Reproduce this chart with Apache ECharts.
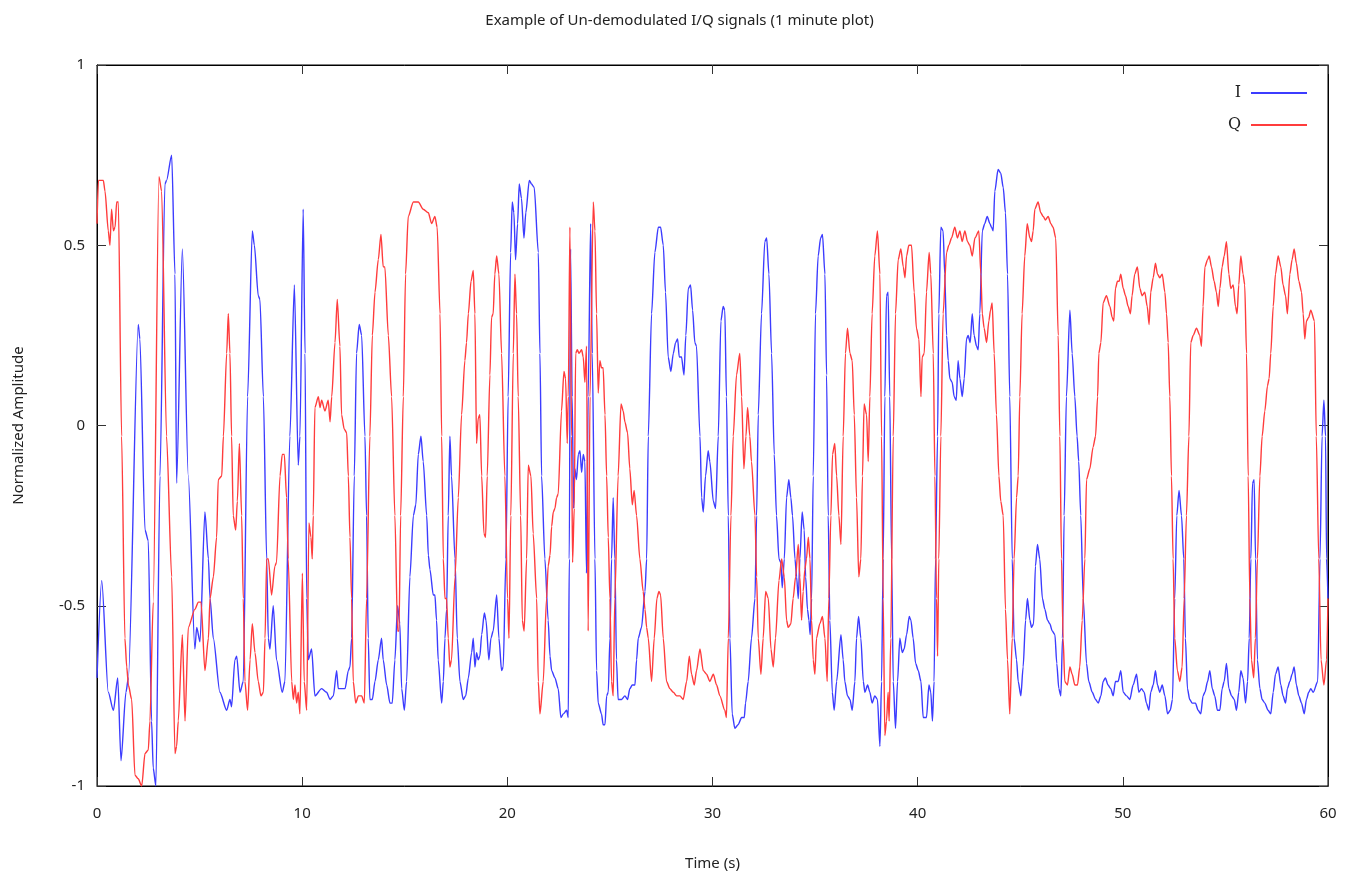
<!DOCTYPE html>
<html>
<head>
<meta charset="utf-8">
<script src="https://cdn.jsdelivr.net/npm/echarts@6/dist/echarts.min.js"></script>
<style>
html,body{margin:0;padding:0;background:#fff;}
#chart{width:1359px;height:879px;}
</style>
</head>
<body>
<div id="chart"></div>
<script>
const TITLE = 'Example of Un-demodulated I/Q signals (1 minute plot)';
const X_NAME = 'Time (s)';
const Y_NAME = 'Normalized Amplitude';
const SERIES_NAMES = ['I', 'Q'];
const X_TICKS = [0, 10, 20, 30, 40, 50, 60];
const Y_TICKS = [-1, -0.5, 0, 0.5, 1];

// I signal: [time (s), amplitude]
const I_POINTS = [
[0,-0.70],[0.23,-0.43],[0.55,-0.74],[0.80,-0.79],[1.01,-0.70],[1.17,-0.93],[1.41,-0.74],[1.53,-0.70],[2.01,0.28],[2.09,0.24],[2.34,-0.29],[2.50,-0.32],[2.66,-0.82],[2.74,-0.95],[2.87,-1.0],[3.07,-0.14],[3.31,0.67],[3.39,0.68],[3.64,0.75],[3.80,0.42],[3.88,-0.16],[4.16,0.49],[4.45,-0.14],[4.77,-0.62],[4.86,-0.56],[5.02,-0.60],
[5.26,-0.24],[5.43,-0.37],[5.51,-0.48],[5.67,-0.59],[5.99,-0.74],[6.32,-0.79],[6.48,-0.76],[6.56,-0.78],[6.72,-0.65],[6.81,-0.64],[6.97,-0.74],[7.13,-0.71],[7.34,0.08],[7.57,0.54],[7.67,0.50],[7.86,0.36],[7.94,0.35],[8.11,0.08],[8.27,-0.37],[8.35,-0.59],[8.43,-0.62],[8.59,-0.50],[8.75,-0.65],[9.03,-0.74],[9.16,-0.71],[9.40,-0.03],[9.62,0.39],[9.81,-0.11],[9.89,-0.03],[10.05,0.60],[10.14,0.20],[10.22,-0.48],[10.30,-0.65],[10.46,-0.62],
[10.62,-0.75],[10.95,-0.73],[11.19,-0.74],[11.36,-0.76],[11.52,-0.75],[11.68,-0.68],[11.76,-0.73],[11.92,-0.73],[12.09,-0.73],[12.25,-0.68],[12.33,-0.67],[12.41,-0.59],[12.54,-0.14],[12.65,0.20],[12.78,0.28],[12.90,0.25],[13.06,-0.03],[13.14,-0.25],[13.22,-0.59],[13.30,-0.76],[13.42,-0.76],[13.55,-0.71],[13.71,-0.65],[13.87,-0.59],[13.95,-0.65],[14.12,-0.72],[14.28,-0.77],[14.39,-0.77],[14.52,-0.65],[14.65,-0.50],[14.76,-0.55],[14.85,-0.73],[14.98,-0.79],[15.09,-0.71],[15.25,-0.42],[15.42,-0.25],[15.54,-0.22],[15.66,-0.08],[15.79,-0.03],[15.90,-0.10],
[16.07,-0.25],[16.15,-0.36],[16.23,-0.40],[16.39,-0.47],[16.47,-0.47],[16.55,-0.54],[16.63,-0.65],[16.80,-0.77],[16.88,-0.71],[16.96,-0.59],[17.04,-0.51],[17.12,-0.25],[17.20,-0.03],[17.28,-0.14],[17.45,-0.37],[17.56,-0.59],[17.69,-0.71],[17.85,-0.76],[17.97,-0.75],[18.10,-0.70],[18.26,-0.63],[18.34,-0.59],[18.42,-0.67],[18.50,-0.63],[18.58,-0.65],[18.66,-0.64],[18.75,-0.58],[18.88,-0.52],[18.96,-0.54],[19.10,-0.65],[19.20,-0.59],[19.31,-0.57],[19.48,-0.47],[19.59,-0.59],[19.72,-0.68],[19.80,-0.67],[19.93,-0.37],[20.04,0.08],[20.16,0.48],[20.24,0.62],[20.32,0.59],[20.40,0.46],[20.50,0.56],[20.58,0.67],[20.69,0.63],[20.81,0.52],[20.90,0.59],[21.07,0.68],[21.18,0.67],[21.31,0.66],
[21.51,0.48],[21.59,0.20],[21.67,-0.14],[21.83,-0.37],[21.99,-0.54],[22.08,-0.64],[22.16,-0.68],[22.32,-0.70],[22.48,-0.73],[22.61,-0.81],[22.73,-0.80],[22.89,-0.79],[22.97,-0.81],[23.02,-0.37],[23.08,0.49],[23.16,0.08],[23.23,-0.23],[23.29,-0.12],[23.37,-0.15],[23.46,-0.08],[23.54,-0.07],[23.62,-0.13],[23.70,-0.08],[23.78,-0.10],[23.86,-0.41],[23.94,0.08],[24.06,0.56],[24.14,0.20],[24.27,-0.37],[24.35,-0.68],[24.43,-0.77],[24.59,-0.80],[24.67,-0.83],[24.76,-0.83],[24.84,-0.75],[24.92,-0.74],[25.00,-0.59],[25.08,-0.37],[25.16,-0.20],[25.24,-0.37],[25.32,-0.65],[25.40,-0.76],[25.57,-0.76],[25.73,-0.75],[25.86,-0.76],[25.97,-0.73],[26.09,-0.72],[26.22,-0.72],[26.30,-0.65],[26.38,-0.59],[26.54,-0.56],
[26.71,-0.46],[26.79,-0.37],[26.87,-0.03],[27.03,0.31],[27.19,0.48],[27.36,0.55],[27.47,0.55],[27.60,0.50],[27.71,0.37],[27.84,0.19],[27.97,0.15],[28.09,0.20],[28.20,0.23],[28.30,0.24],[28.38,0.19],[28.49,0.19],[28.61,0.14],[28.70,0.25],[28.82,0.38],[28.93,0.39],[29.03,0.32],[29.14,0.23],[29.22,0.22],[29.39,-0.03],[29.47,-0.20],[29.55,-0.24],[29.66,-0.14],[29.79,-0.07],[29.87,-0.10],[30.04,-0.21],[30.15,-0.23],[30.28,-0.03],[30.41,0.29],[30.52,0.33],[30.60,0.32],[30.68,0.08],[30.77,-0.25],[30.85,-0.59],[30.96,-0.80],[31.09,-0.84],[31.25,-0.83],[31.42,-0.81],[31.55,-0.81],[31.61,-0.77],[31.74,-0.71],[31.90,-0.59],[32.07,-0.48],
[32.15,-0.25],[32.23,0.03],[32.39,0.31],[32.55,0.51],[32.64,0.52],[32.75,0.42],[32.88,0.20],[33.01,-0.08],[33.12,-0.25],[33.24,-0.37],[33.33,-0.38],[33.40,-0.45],[33.50,-0.37],[33.61,-0.20],[33.72,-0.15],[33.82,-0.20],[33.90,-0.25],[34.02,-0.37],[34.10,-0.42],[34.18,-0.48],[34.26,-0.37],[34.37,-0.24],[34.47,-0.29],[34.54,-0.42],[34.63,-0.51],[34.70,-0.54],[34.76,-0.58],[34.83,-0.48],[34.91,-0.14],[35.02,0.31],[35.15,0.47],[35.27,0.52],[35.36,0.53],[35.48,0.42],[35.56,0.14],[35.64,-0.25],[35.72,-0.54],[35.84,-0.74],[35.93,-0.79],[36.05,-0.71],[36.26,-0.58],[36.37,-0.65],[36.45,-0.71],[36.58,-0.75],[36.70,-0.76],[36.81,-0.79],[36.94,-0.71],[37.02,-0.59],[37.12,-0.53],[37.23,-0.59],[37.35,-0.71],
[37.43,-0.74],[37.56,-0.72],[37.67,-0.74],[37.78,-0.77],[37.91,-0.75],[38.04,-0.76],[38.16,-0.89],[38.24,-0.71],[38.32,-0.37],[38.40,0.08],[38.48,0.36],[38.56,0.37],[38.64,0.08],[38.73,-0.37],[38.81,-0.71],[38.92,-0.84],[39.02,-0.71],[39.13,-0.59],[39.25,-0.63],[39.34,-0.62],[39.46,-0.58],[39.59,-0.53],[39.67,-0.54],[39.78,-0.59],[39.90,-0.66],[40.03,-0.68],[40.16,-0.71],[40.27,-0.81],[40.43,-0.81],[40.55,-0.72],[40.64,-0.74],[40.72,-0.82],[40.80,-0.71],[40.87,-0.37],[40.97,-0.03],[41.03,0.31],[41.13,0.55],[41.24,0.54],[41.32,0.42],[41.41,0.25],[41.49,0.18],[41.57,0.13],[41.68,0.12],[41.78,0.08],[41.88,0.07],[41.97,0.18],[42.06,0.13],[42.17,0.08],[42.27,0.13],[42.38,0.24],[42.46,0.25],[42.56,0.23],[42.66,0.31],[42.75,0.25],
[42.87,0.22],[42.95,0.21],[43.03,0.31],[43.15,0.54],[43.27,0.56],[43.39,0.58],[43.52,0.56],[43.60,0.55],[43.68,0.54],[43.76,0.65],[43.92,0.71],[44.05,0.70],[44.17,0.66],[44.28,0.59],[44.38,0.42],[44.49,0.08],[44.61,-0.37],[44.70,-0.59],[44.82,-0.65],[44.90,-0.71],[45.03,-0.75],[45.14,-0.67],[45.26,-0.54],[45.35,-0.48],[45.47,-0.54],[45.55,-0.56],[45.65,-0.55],[45.74,-0.39],[45.84,-0.33],[45.95,-0.37],[46.08,-0.48],[46.20,-0.51],[46.33,-0.54],[46.44,-0.55],[46.56,-0.57],[46.69,-0.58],[46.78,-0.66],[46.88,-0.73],[46.98,-0.75],[47.06,-0.59],[47.14,-0.25],[47.25,0.08],[47.42,0.32],[47.53,0.20],[47.66,0.08],[47.77,-0.03],[47.85,-0.10],[47.95,-0.25],[48.07,-0.48],
[48.23,-0.66],[48.34,-0.71],[48.51,-0.74],[48.67,-0.76],[48.80,-0.77],[48.93,-0.75],[49.04,-0.71],[49.15,-0.70],[49.28,-0.72],[49.41,-0.73],[49.53,-0.75],[49.64,-0.71],[49.77,-0.71],[49.90,-0.68],[50.02,-0.74],[50.18,-0.75],[50.34,-0.76],[50.50,-0.72],[50.67,-0.69],[50.78,-0.74],[50.91,-0.73],[51.04,-0.74],[51.15,-0.77],[51.27,-0.79],[51.36,-0.74],[51.48,-0.72],[51.59,-0.68],[51.69,-0.72],[51.80,-0.74],[51.92,-0.72],[52.05,-0.75],[52.18,-0.80],[52.31,-0.79],[52.42,-0.76],[52.53,-0.48],[52.63,-0.25],[52.74,-0.18],[52.86,-0.25],[52.97,-0.37],[53.05,-0.59],[53.15,-0.73],[53.26,-0.76],[53.38,-0.77],[53.54,-0.77],[53.67,-0.79],[53.80,-0.80],[53.91,-0.75],
[54.00,-0.74],[54.13,-0.71],[54.24,-0.68],[54.36,-0.73],[54.48,-0.75],[54.61,-0.79],[54.73,-0.79],[54.84,-0.73],[54.94,-0.71],[55.05,-0.66],[55.17,-0.73],[55.30,-0.75],[55.43,-0.76],[55.54,-0.79],[55.65,-0.74],[55.75,-0.68],[55.86,-0.70],[55.98,-0.77],[56.08,-0.71],[56.16,-0.59],[56.24,-0.37],[56.32,-0.16],[56.40,-0.15],[56.47,-0.37],[56.56,-0.65],[56.68,-0.73],[56.79,-0.76],[56.92,-0.77],[57.08,-0.79],[57.21,-0.80],[57.33,-0.74],[57.44,-0.69],[57.57,-0.67],[57.70,-0.72],[57.81,-0.75],[57.93,-0.77],[58.02,-0.73],[58.14,-0.71],[58.25,-0.69],[58.35,-0.67],[58.46,-0.72],[58.58,-0.75],[58.71,-0.77],[58.84,-0.80],[58.95,-0.76],[59.06,-0.74],[59.16,-0.73],[59.28,-0.74],[59.50,-0.71],[59.61,-0.37],[59.71,-0.03],[59.80,0.07],[59.88,-0.03],[59.93,-0.37],[60.0,-0.48]
];

// Q signal: [time (s), amplitude]
const Q_POINTS = [
[0,0.56],[0.07,0.68],[0.31,0.68],[0.39,0.65],[0.55,0.54],[0.63,0.50],[0.71,0.60],[0.80,0.54],[0.88,0.55],[0.96,0.62],[1.04,0.62],[1.20,-0.03],[1.36,-0.59],[1.45,-0.67],[1.53,-0.72],[1.69,-0.76],[1.85,-0.97],[2.01,-0.98],[2.18,-1.0],[2.34,-0.91],[2.50,-0.90],[2.58,-0.82],[2.74,-0.49],[3.02,0.69],[3.15,0.65],[3.39,-0.03],[3.64,-0.42],[3.80,-0.91],[3.88,-0.89],[3.96,-0.82],[4.16,-0.58],[4.29,-0.82],[4.45,-0.56],[4.77,-0.51],[4.94,-0.49],[5.07,-0.49],
[5.26,-0.68],[5.43,-0.59],[5.51,-0.48],[5.67,-0.42],[5.83,-0.31],[5.91,-0.15],[6.08,-0.14],[6.16,-0.03],[6.32,0.20],[6.40,0.31],[6.48,0.20],[6.56,-0.03],[6.64,-0.25],[6.76,-0.29],[6.84,-0.21],[6.94,-0.05],[7.05,-0.25],[7.13,-0.48],[7.21,-0.71],[7.34,-0.79],[7.46,-0.65],[7.57,-0.55],[7.70,-0.63],[7.86,-0.71],[7.99,-0.75],[8.11,-0.74],[8.19,-0.59],[8.27,-0.37],[8.35,-0.37],[8.51,-0.47],[8.67,-0.39],[8.75,-0.38],[8.92,-0.14],[9.03,-0.08],[9.13,-0.08],[9.24,-0.20],[9.32,-0.37],[9.49,-0.71],[9.57,-0.76],[9.65,-0.72],[9.73,-0.77],[9.81,-0.74],[9.89,-0.80],[10.01,-0.41],[10.10,-0.71],[10.22,-0.79],[10.33,-0.27],[10.43,-0.31],[10.49,-0.37],[10.54,-0.25],[10.62,0.05],
[10.79,0.08],[10.87,0.05],[10.95,0.07],[11.11,0.04],[11.27,0.07],[11.36,0.01],[11.44,0.08],[11.60,0.23],[11.71,0.35],[11.84,0.22],[11.92,0.03],[12.05,-0.01],[12.17,-0.02],[12.25,-0.14],[12.33,-0.31],[12.41,-0.48],[12.49,-0.71],[12.61,-0.77],[12.74,-0.75],[12.90,-0.75],[13.03,-0.77],[13.14,-0.48],[13.30,-0.03],[13.42,0.25],[13.55,0.37],[13.71,0.46],[13.84,0.53],[13.95,0.44],[14.03,0.44],[14.20,0.25],[14.36,0.08],[14.52,-0.25],[14.65,-0.57],[14.72,-0.57],[14.80,-0.25],[14.93,0.08],[15.04,0.42],[15.17,0.58],[15.42,0.62],[15.66,0.62],[15.90,0.60],
[16.15,0.59],[16.31,0.56],[16.47,0.58],[16.58,0.55],[16.72,0.31],[16.80,-0.03],[16.88,-0.37],[16.96,-0.48],[17.04,-0.48],[17.12,-0.59],[17.20,-0.67],[17.28,-0.65],[17.45,-0.42],[17.61,-0.20],[17.77,0.03],[17.93,0.18],[18.01,0.23],[18.10,0.31],[18.23,0.40],[18.34,0.43],[18.42,0.31],[18.50,-0.05],[18.58,0.02],[18.66,0.03],[18.75,-0.14],[18.86,-0.30],[18.94,-0.31],[19.02,-0.14],[19.15,0.14],[19.23,0.30],[19.31,0.31],[19.39,0.42],[19.48,0.47],[19.59,0.42],[19.72,0.20],[19.88,-0.14],[20.01,-0.48],[20.08,-0.59],[20.17,-0.25],[20.29,0.20],[20.37,0.42],[20.45,0.31],[20.53,0.08],[20.65,-0.25],[20.73,-0.54],[20.82,-0.57],[20.94,-0.37],[21.02,-0.11],[21.15,-0.14],[21.26,-0.30],
[21.43,-0.48],[21.51,-0.71],[21.59,-0.80],[21.75,-0.71],[21.91,-0.48],[21.99,-0.39],[22.08,-0.36],[22.16,-0.28],[22.24,-0.24],[22.32,-0.23],[22.40,-0.20],[22.48,-0.19],[22.64,0.04],[22.76,0.15],[22.84,0.13],[22.92,-0.05],[22.97,0.08],[23.05,0.55],[23.13,-0.03],[23.18,-0.38],[23.26,-0.23],[23.33,0.20],[23.41,0.21],[23.49,0.20],[23.62,0.21],[23.70,0.19],[23.78,0.12],[23.86,0.22],[23.94,-0.57],[24.03,0.08],[24.19,0.62],[24.27,0.54],[24.35,0.31],[24.43,0.09],[24.51,0.18],[24.59,0.16],[24.67,0.16],[24.76,0.03],[24.84,-0.14],[24.92,-0.31],[25.00,-0.48],[25.08,-0.71],[25.16,-0.75],[25.24,-0.48],[25.40,-0.14],[25.54,0.06],[25.65,0.04],[25.73,0.01],[25.86,-0.02],[25.97,-0.12],[26.09,-0.22],[26.18,-0.18],[26.30,-0.25],[26.46,-0.37],[26.62,-0.46],
[26.71,-0.51],[26.79,-0.56],[26.87,-0.59],[27.03,-0.71],[27.16,-0.59],[27.29,-0.48],[27.39,-0.46],[27.47,-0.47],[27.60,-0.59],[27.76,-0.71],[27.92,-0.73],[28.09,-0.74],[28.25,-0.75],[28.41,-0.75],[28.57,-0.76],[28.74,-0.71],[28.87,-0.64],[28.98,-0.69],[29.11,-0.72],[29.22,-0.68],[29.39,-0.62],[29.55,-0.68],[29.71,-0.69],[29.87,-0.71],[30.04,-0.69],[30.20,-0.72],[30.36,-0.75],[30.60,-0.79],[30.68,-0.81],[30.77,-0.59],[30.90,-0.25],[31.01,-0.03],[31.17,0.14],[31.33,0.20],[31.42,0.08],[31.53,-0.12],[31.63,-0.03],[31.71,0.05],[31.82,-0.03],[31.90,-0.10],[32.07,-0.25],
[32.15,-0.42],[32.23,-0.59],[32.36,-0.69],[32.47,-0.59],[32.59,-0.46],[32.72,-0.48],[32.85,-0.62],[32.96,-0.67],[33.07,-0.59],[33.24,-0.43],[33.37,-0.37],[33.50,-0.42],[33.61,-0.54],[33.69,-0.56],[33.82,-0.55],[33.93,-0.48],[34.05,-0.42],[34.18,-0.33],[34.26,-0.42],[34.34,-0.54],[34.42,-0.46],[34.50,-0.40],[34.58,-0.37],[34.67,-0.31],[34.75,-0.37],[34.83,-0.54],[34.91,-0.65],[34.99,-0.69],[35.07,-0.59],[35.23,-0.55],[35.36,-0.53],[35.48,-0.59],[35.59,-0.71],[35.67,-0.48],[35.77,-0.25],[35.85,-0.08],[35.96,-0.05],[36.05,-0.14],[36.16,-0.25],[36.26,-0.33],[36.37,-0.03],[36.48,0.20],[36.58,0.27],[36.70,0.20],[36.81,0.18],[36.91,0.03],[37.02,-0.20],[37.13,-0.42],[37.23,-0.37],[37.31,-0.14],[37.39,0.06],
[37.51,0.03],[37.59,-0.10],[37.67,0.08],[37.78,0.31],[37.91,0.47],[38.04,0.54],[38.16,0.42],[38.24,-0.03],[38.32,-0.48],[38.40,-0.86],[38.48,-0.82],[38.56,-0.74],[38.61,-0.82],[38.69,-0.59],[38.81,-0.03],[38.92,0.31],[39.05,0.46],[39.18,0.49],[39.30,0.44],[39.38,0.41],[39.46,0.47],[39.57,0.50],[39.70,0.50],[39.83,0.37],[39.94,0.27],[40.06,0.24],[40.16,0.08],[40.22,0.19],[40.32,0.20],[40.43,0.37],[40.56,0.48],[40.64,0.42],[40.76,0.20],[40.84,-0.14],[40.92,-0.48],[40.97,-0.64],[41.03,-0.37],[41.13,-0.03],[41.24,0.31],[41.41,0.48],[41.52,0.50],[41.65,0.52],[41.81,0.55],[41.94,0.52],[42.06,0.54],[42.17,0.51],[42.30,0.54],[42.43,0.51],[42.54,0.50],[42.66,0.47],[42.79,0.52],
[42.98,0.54],[43.08,0.42],[43.15,0.31],[43.24,0.27],[43.36,0.23],[43.47,0.29],[43.55,0.32],[43.63,0.34],[43.73,0.20],[43.84,0.03],[43.96,-0.14],[44.05,-0.21],[44.17,-0.25],[44.28,-0.51],[44.38,-0.65],[44.49,-0.80],[44.61,-0.59],[44.70,-0.37],[44.82,-0.20],[44.90,-0.14],[44.98,0.08],[45.09,0.31],[45.22,0.47],[45.34,0.56],[45.47,0.52],[45.55,0.51],[45.63,0.54],[45.71,0.60],[45.87,0.62],[46.00,0.59],[46.12,0.58],[46.23,0.57],[46.36,0.58],[46.49,0.56],[46.60,0.55],[46.73,0.52],[46.85,0.25],[46.93,-0.03],[47.01,-0.37],[47.09,-0.59],[47.17,-0.71],[47.30,-0.72],[47.42,-0.67],[47.53,-0.69],[47.66,-0.72],[47.79,-0.72],[47.90,-0.67],[48.02,-0.54],[48.15,-0.37],
[48.23,-0.15],[48.39,-0.12],[48.55,-0.06],[48.67,-0.03],[48.77,0.08],[48.83,0.20],[48.93,0.23],[49.04,0.34],[49.20,0.36],[49.37,0.33],[49.48,0.30],[49.56,0.29],[49.64,0.38],[49.74,0.40],[49.82,0.40],[49.90,0.42],[50.02,0.38],[50.13,0.36],[50.26,0.33],[50.37,0.31],[50.45,0.36],[50.58,0.42],[50.71,0.44],[50.83,0.38],[50.94,0.36],[51.07,0.37],[51.19,0.33],[51.28,0.28],[51.36,0.37],[51.48,0.41],[51.59,0.45],[51.69,0.42],[51.80,0.41],[51.92,0.42],[52.05,0.37],[52.13,0.31],[52.21,0.23],[52.29,0.08],[52.37,-0.14],[52.45,-0.37],[52.53,-0.59],[52.66,-0.68],[52.78,-0.71],[52.89,-0.67],[52.99,-0.48],[53.10,-0.25],[53.22,-0.03],[53.31,0.23],[53.43,0.25],[53.59,0.27],[53.75,0.25],[53.83,0.22],[53.91,0.33],
[54.00,0.44],[54.13,0.46],[54.21,0.47],[54.32,0.44],[54.45,0.40],[54.56,0.37],[54.65,0.33],[54.73,0.38],[54.84,0.44],[54.94,0.47],[55.05,0.51],[55.17,0.42],[55.26,0.38],[55.38,0.39],[55.49,0.33],[55.57,0.31],[55.65,0.39],[55.75,0.47],[55.86,0.42],[55.94,0.39],[56.03,0.20],[56.11,-0.14],[56.19,-0.48],[56.27,-0.65],[56.38,-0.70],[56.46,-0.59],[56.56,-0.37],[56.68,-0.14],[56.79,-0.03],[56.92,0.04],[57.05,0.11],[57.13,0.13],[57.21,0.20],[57.33,0.33],[57.44,0.42],[57.57,0.47],[57.70,0.44],[57.81,0.39],[57.93,0.36],[58.02,0.31],[58.14,0.42],[58.25,0.46],[58.35,0.49],[58.46,0.45],[58.58,0.40],[58.71,0.37],[58.79,0.31],[58.87,0.24],[58.95,0.29],[59.06,0.30],[59.16,0.32],[59.34,0.29],[59.43,-0.03],[59.55,-0.37],[59.66,-0.65],[59.80,-0.72],[59.93,-0.65],[60.0,-0.48]
];

const COLORS = ['#3c3cff', '#ff3c3c'];
const FONT = 'Noto Sans';

const chart = echarts.init(document.getElementById('chart'), null, {renderer: 'canvas'});

function axisStyle() {
  return {
    axisLine: {show: true, onZero: false, lineStyle: {color: '#000', width: 1}},
    axisTick: {show: true, inside: true, length: 9, lineStyle: {color: '#333', width: 1}},
    splitLine: {show: false}
  };
}

const option = {
  animation: false,
  backgroundColor: '#fff',
  title: {
    text: TITLE,
    left: 'center',
    top: 8,
    textStyle: {fontFamily: FONT, fontSize: 15, fontWeight: 'normal', color: '#222'}
  },
  legend: {
    data: SERIES_NAMES,
    orient: 'vertical',
    right: 47,
    top: 80,
    align: 'right',
    icon: 'rect',
    itemWidth: 56,
    itemHeight: 2,
    itemGap: 16,
    textStyle: {fontFamily: 'DejaVu Serif', fontSize: 16, color: '#222', padding: [0, 5, 0, 0]}
  },
  grid: {
    left: 97, right: 31, top: 65, bottom: 93,
    show: true, borderColor: '#000', borderWidth: 1, backgroundColor: 'transparent'
  },
  xAxis: [
    Object.assign(axisStyle(), {
      type: 'value', position: 'bottom',
      min: X_TICKS[0], max: X_TICKS[X_TICKS.length - 1], interval: 10,
      name: X_NAME, nameLocation: 'middle', nameGap: 70,
      nameTextStyle: {fontFamily: FONT, fontSize: 15, color: '#222'},
      axisLabel: {fontFamily: FONT, fontSize: 15, color: '#222', margin: 20}
    }),
    Object.assign(axisStyle(), {
      type: 'value', position: 'top',
      min: X_TICKS[0], max: X_TICKS[X_TICKS.length - 1], interval: 10,
      axisLabel: {show: false}
    })
  ],
  yAxis: [
    Object.assign(axisStyle(), {
      type: 'value', position: 'left',
      min: Y_TICKS[0], max: Y_TICKS[Y_TICKS.length - 1], interval: 0.5,
      name: Y_NAME, nameLocation: 'middle', nameGap: 71, nameRotate: 90,
      nameTextStyle: {fontFamily: FONT, fontSize: 15, color: '#222'},
      axisLabel: {fontFamily: FONT, fontSize: 15, color: '#222', margin: 12}
    }),
    Object.assign(axisStyle(), {
      type: 'value', position: 'right',
      min: Y_TICKS[0], max: Y_TICKS[Y_TICKS.length - 1], interval: 0.5,
      axisLabel: {show: false}
    })
  ],
  series: [
    {
      name: SERIES_NAMES[0], type: 'line', data: I_POINTS,
      xAxisIndex: 0, yAxisIndex: 0,
      symbol: 'none', showSymbol: false,
      lineStyle: {color: COLORS[0], width: 1.4},
      itemStyle: {color: COLORS[0]},
      smooth: 0.25, smoothMonotone: 'x'
    },
    {
      name: SERIES_NAMES[1], type: 'line', data: Q_POINTS,
      xAxisIndex: 0, yAxisIndex: 0,
      symbol: 'none', showSymbol: false,
      lineStyle: {color: COLORS[1], width: 1.4},
      itemStyle: {color: COLORS[1]},
      smooth: 0.25, smoothMonotone: 'x'
    }
  ]
};

chart.setOption(option);
</script>
</body>
</html>
